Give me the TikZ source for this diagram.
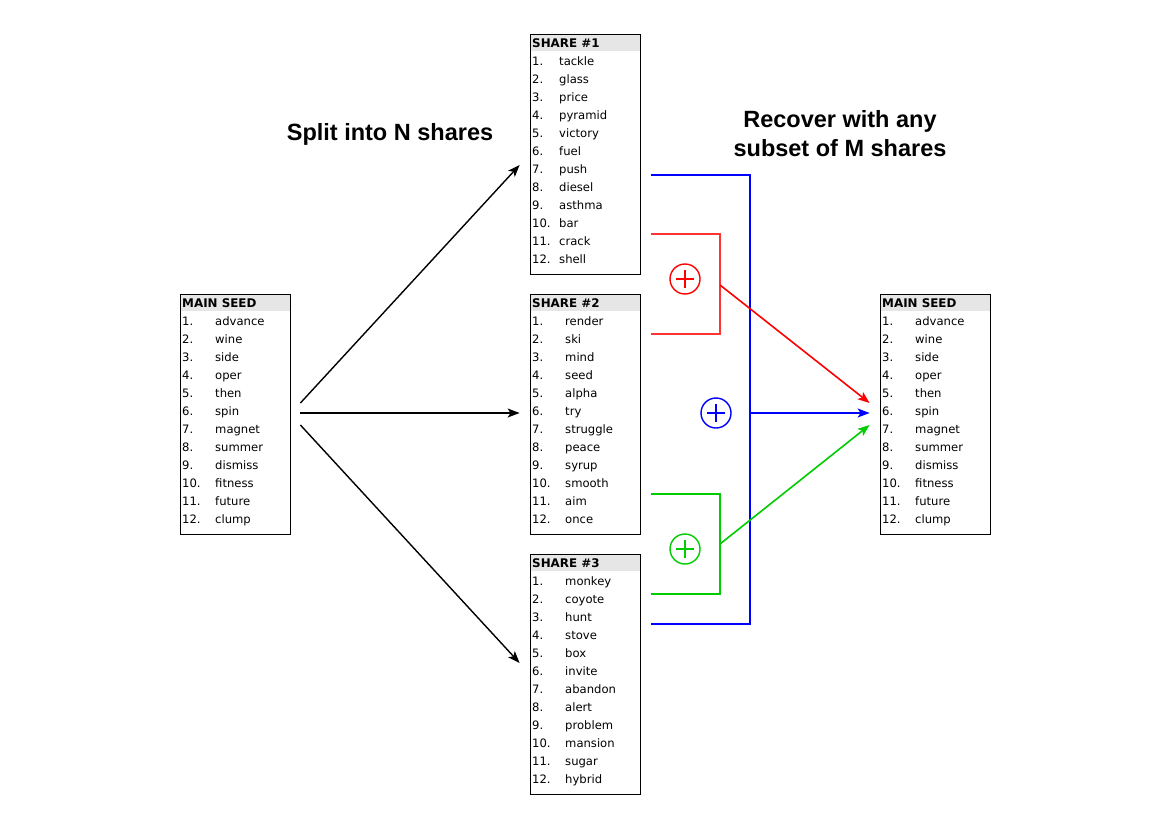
\documentclass[tikz,border=0pt]{standalone}
\usepackage{fontspec}
\setmainfont{DejaVu Sans}
\newfontfamily\titlefont{Liberation Sans}
\usetikzlibrary{arrows.meta}
\definecolor{seedgray}{HTML}{E6E6E6}
\definecolor{addred}{HTML}{FF0000}
\definecolor{addblue}{HTML}{0000FF}
\definecolor{addgreen}{HTML}{00CC00}
\tikzset{
  listbox/.style={draw,line width=0.8pt,minimum width=110pt,minimum height=240pt,inner sep=0pt},
  headtext/.style={anchor=base west,inner sep=0pt,font=\fontsize{11.9}{13}\selectfont\bfseries},
  itemtext/.style={anchor=base west,inner sep=0pt,font=\fontsize{11.6}{13}\selectfont},
  titletext/.style={align=center,font=\titlefont\fontsize{23.5}{29}\selectfont\bfseries},
  adder/.style={circle,draw,line width=1.4pt,minimum size=30pt,inner sep=0pt,
    path picture={\draw[line width=1.4pt] (path picture bounding box.center) ++(-9,0) -- ++(18,0)
      (path picture bounding box.center) ++(0,-9) -- ++(0,18);}},
  tip/.style={-{Stealth[length=12pt,width=9pt,inset=3pt]}}
}
% #1 name, #2 left, #3 top, #4 title, #5 word column, #6 words
\newcommand{\wordbox}[6]{%
  \fill[seedgray] (#2,#3) rectangle (#2+110,#3+17);
  \path (#2+55,#3+120) node[listbox] (#1) {};
  \path (#2+2,#3+13) node[headtext] (#1-title) {#4};
  \foreach \w [count=\i] in {#6} {
    \path (#2+2,#3+13+18*\i) node[itemtext] (#1-n\i) {\i.}
          (#2+#5,#3+13+18*\i) node[itemtext] (#1-w\i) {\w};
  }%
}
\begin{document}
\begin{tikzpicture}[x=1pt,y=-1pt]
  \useasboundingbox (0,0) rectangle (1169,827);
  % seed and shares
  \wordbox{seedL}{180}{294}{MAIN SEED}{35}{advance,wine,side,oper,then,spin,magnet,summer,dismiss,fitness,future,clump}
  \wordbox{share1}{530}{34}{SHARE \#1}{29}{tackle,glass,price,pyramid,victory,fuel,push,diesel,asthma,bar,crack,shell}
  \wordbox{share2}{530}{294}{SHARE \#2}{35}{render,ski,mind,seed,alpha,try,struggle,peace,syrup,smooth,aim,once}
  \wordbox{share3}{530}{554}{SHARE \#3}{35}{monkey,coyote,hunt,stove,box,invite,abandon,alert,problem,mansion,sugar,hybrid}
  \wordbox{seedR}{880}{294}{MAIN SEED}{35}{advance,wine,side,oper,then,spin,magnet,summer,dismiss,fitness,future,clump}
  % titles
  \path (390,134) node[titletext] (split) {Split into N shares};
  \path (840,134) node[titletext] (recover) {Recover with any\\subset of M shares};
  % splitting
  \draw[tip,line width=1.4pt] ([shift={(10,-11)}]seedL.east) -- ([shift={(-10,11)}]share1.west);
  \draw[tip,line width=1.4pt] ([shift={(10,-1)}]seedL.east) -- ([shift={(-10,-1)}]share2.west);
  \draw[tip,line width=1.4pt] ([shift={(10,11)}]seedL.east) -- ([shift={(-10,-11)}]share3.west);
  % recovering
  \coordinate (busB) at (750,413);
  \coordinate (busR) at (720,285);
  \coordinate (busG) at (720,544);
  \draw[addblue,line width=1.6pt] ([shift={(11,21)}]share1.east) -| (busB) |- ([shift={(11,-50)}]share3.east);
  \draw[addblue,line width=1.6pt,tip] (busB) -- ([shift={(-10,-1)}]seedR.west);
  \draw[addred!80,line width=1.6pt] ([shift={(11,80)}]share1.east) -| (busR) |- ([shift={(11,-80)}]share2.east);
  \draw[addred,line width=1.6pt,tip] (busR) -- ([shift={(-10,-11)}]seedR.west);
  \draw[addgreen,line width=1.6pt] ([shift={(11,80)}]share2.east) -| (busG) |- ([shift={(11,-80)}]share3.east);
  \draw[addgreen,line width=1.6pt,tip] (busG) -- ([shift={(-10,11)}]seedR.west);
  \path (685,279) node[adder,addred] (addR) {};
  \path (716,413) node[adder,addblue] (addB) {};
  \path (685,549) node[adder,addgreen] (addG) {};
\end{tikzpicture}
\end{document}
